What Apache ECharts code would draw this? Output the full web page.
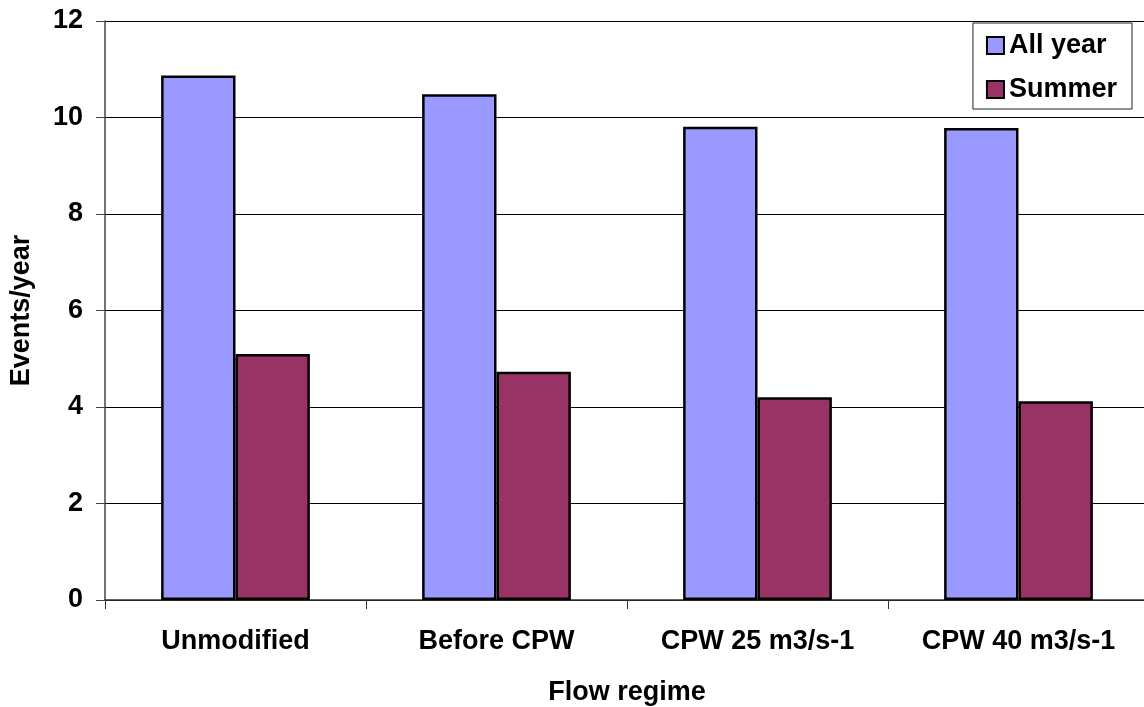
<!DOCTYPE html>
<html>
<head>
<meta charset="utf-8">
<script src="https://cdn.jsdelivr.net/npm/echarts@6/dist/echarts.min.js"></script>
<style>html,body{margin:0;padding:0;background:#fff}#c{width:1144px;height:707px}</style>
</head>
<body>
<div id="c"></div>
<script>
const categories = ['Unmodified', 'Before CPW', 'CPW 25 m3/s-1', 'CPW 40 m3/s-1'];
const allYear = [10.87, 10.48, 9.81, 9.78];
const summer = [5.10, 4.73, 4.20, 4.12];
const seriesNames = ['All year', 'Summer'];

const font = 'Liberation Sans, Arial, sans-serif';
const chart = echarts.init(document.getElementById('c'));
chart.setOption({
  animation: false,
  backgroundColor: '#fff',
  grid: { left: 105, right: -5, top: 21, bottom: 107, containLabel: false, outerBoundsMode: 'none' },
  legend: {
    right: 12, top: 23,
    orient: 'vertical',
    icon: 'rect',
    itemWidth: 17, itemHeight: 17,
    itemGap: 17,
    padding: [9, 15, 6, 13],
    borderColor: '#222', borderWidth: 1,
    backgroundColor: '#fff',
    textStyle: { fontFamily: font, fontWeight: 'bold', fontSize: 27, color: '#000' },
    data: seriesNames.map(n => ({ name: n, itemStyle: { borderColor: '#000', borderWidth: 2 } }))
  },
  xAxis: {
    type: 'category',
    data: categories,
    name: 'Flow regime',
    nameLocation: 'middle',
    nameGap: 79,
    nameTextStyle: { fontFamily: font, fontWeight: 'bold', fontSize: 27, color: '#000' },
    axisLine: { lineStyle: { color: '#333', width: 1.5 } },
    axisTick: { show: true, length: 9, lineStyle: { color: '#333' }, alignWithLabel: false },
    axisLabel: { fontFamily: font, fontWeight: 'bold', fontSize: 27, color: '#000', margin: 28 }
  },
  yAxis: {
    type: 'value',
    min: 0, max: 12, interval: 2,
    name: 'Events/year',
    nameLocation: 'middle',
    nameGap: 70,
    nameTextStyle: { fontFamily: font, fontWeight: 'bold', fontSize: 27, color: '#000' },
    axisLine: { show: true, lineStyle: { color: '#444', width: 1.5 } },
    axisTick: { show: true, length: 9, inside: false, lineStyle: { color: '#444' } },
    axisLabel: { fontFamily: font, fontWeight: 'bold', fontSize: 27, color: '#000', margin: 22 },
    splitLine: { show: true, lineStyle: { color: '#000', width: 1 } }
  },
  series: [
    {
      name: seriesNames[0], type: 'bar', data: allYear,
      barGap: '0%', barCategoryGap: '43%',
      itemStyle: { color: '#9999ff', borderColor: '#000', borderWidth: 2.5 }
    },
    {
      name: seriesNames[1], type: 'bar', data: summer,
      itemStyle: { color: '#993366', borderColor: '#000', borderWidth: 2.5 }
    }
  ]
});
</script>
</body>
</html>
